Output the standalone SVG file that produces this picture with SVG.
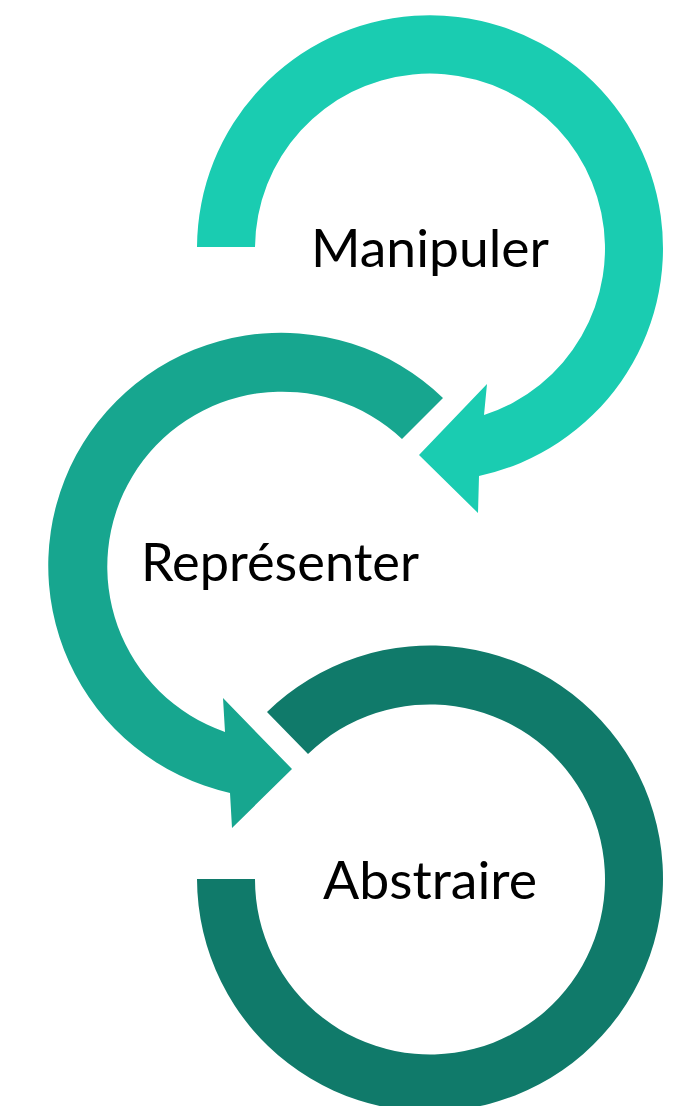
<svg xmlns="http://www.w3.org/2000/svg" width="673" height="1106" viewBox="0 0 673 1106">
  <style>
    .lbl { font-family: Lato, "Liberation Sans", sans-serif; font-size: 53px; fill: #000000; text-anchor: middle; }
    .c1 { fill: #1ACCB1; }
    .c2 { fill: #17A68F; }
    .c3 { fill: #107A6A; }
  </style>
  <rect width="673" height="1106" fill="#ffffff"/>
  <g id="connectors">
    <path id="arrow-manipuler" class="c1" d="M 197 247 A 233 233 0 1 1 479 476 L 478 513 L 419 455 L 487 384 L 484 415 A 175 175 0 1 0 255 247 Z"/>
    <path id="arrow-representer" class="c2" d="M 443 398 A 233 233 0 1 0 230 793 L 232 828 L 292 769 L 223 698 L 225 732 A 175 175 0 1 1 402 439 Z"/>
    <path id="arc-abstraire" class="c3" d="M 267 712 A 233 233 0 1 1 197 879 L 255 879 A 175 175 0 1 0 308 754 Z"/>
  </g>
  <g id="node-manipuler">
    <text class="lbl" x="430" y="267" textLength="238" lengthAdjust="spacingAndGlyphs">Manipuler</text>
  </g>
  <g id="node-representer">
    <text class="lbl" x="280" y="581" textLength="278" lengthAdjust="spacingAndGlyphs">Représenter</text>
  </g>
  <g id="node-abstraire">
    <text class="lbl" x="430" y="899" textLength="214" lengthAdjust="spacingAndGlyphs">Abstraire</text>
  </g>
</svg>
